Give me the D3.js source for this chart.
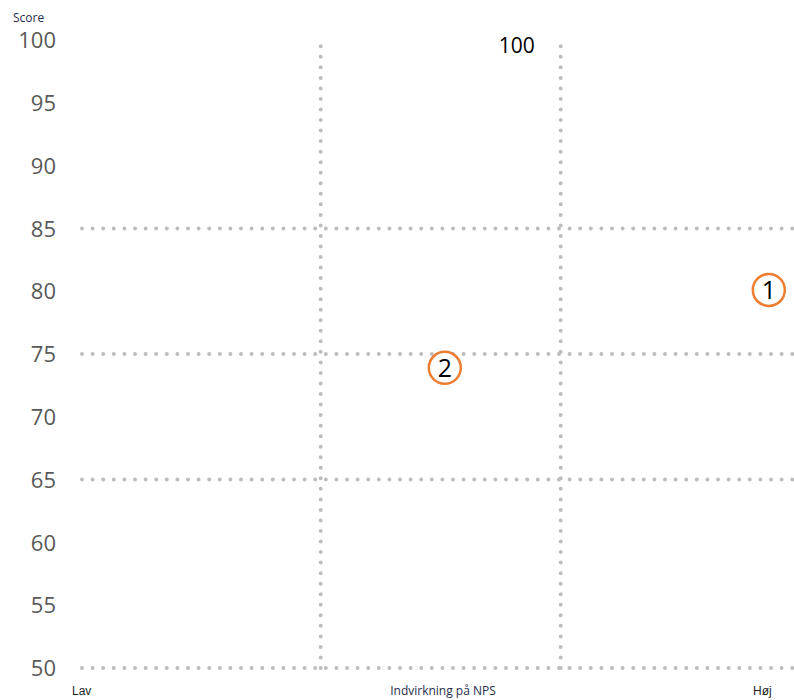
<!DOCTYPE html>
<html>
<head>
<meta charset="utf-8">
<script src="https://cdn.jsdelivr.net/npm/d3@7"></script>
<style>
  html, body { margin: 0; padding: 0; background: #fff; }
  svg { display: block; }
</style>
</head>
<body>
<svg id="chart" width="794" height="700"></svg>
<script>
// ---- data ----
const yTicks = [50, 55, 60, 65, 70, 75, 80, 85, 90, 95, 100];
const hGridValues = [50, 65, 75, 85];
const vGridValues = [1, 2];
const pointLabels = ["1", "2"];
const pointX = [2.87, 1.52];
const pointY = [80.1, 73.9];
const xEndLabels = ["Lav", "Høj"];
const xTitle = "Indvirkning på NPS";
const yTitle = "Score";
const annotationText = ["100"];
const annotationX = [1.82];
const annotationY = [99.6];

// ---- scales ----
const svg = d3.select("#chart");
const x = d3.scaleLinear().domain([0, 3]).range([80, 800]);
const y = d3.scaleLinear().domain([50, 100]).range([668, 40]);

const gridColor = "#bdbdbd";
function dashStep(len, step) {
  const n = Math.max(1, Math.round(len / step));
  return len / n;
}

// horizontal dotted grid
svg.append("g").selectAll("line").data(hGridValues).join("line")
  .attr("x1", x(0) + 2).attr("x2", 800)
  .attr("y1", d => y(d)).attr("y2", d => y(d))
  .attr("stroke", gridColor).attr("stroke-width", 4)
  .attr("stroke-linecap", "round").attr("stroke-dasharray", "0 10.6");

// vertical dotted grid (drawn bottom-up)
const vLen = y(50) - y(99.5);
const vStep = dashStep(vLen, 10.5);
svg.append("g").selectAll("line").data(vGridValues).join("line")
  .attr("x1", d => x(d) + 0.7).attr("x2", d => x(d) + 0.7)
  .attr("y1", y(50)).attr("y2", y(99.5) - 2)
  .attr("stroke", gridColor).attr("stroke-width", 4)
  .attr("stroke-linecap", "round").attr("stroke-dasharray", "0 " + vStep);

// y axis (labels only)
const yAxis = d3.axisLeft(y).tickValues(yTicks).tickSize(0).tickPadding(0);
const gy = svg.append("g").attr("transform", "translate(56,0)").call(yAxis);
gy.select(".domain").remove();
gy.selectAll("text")
  .attr("font-family", "'Open Sans', sans-serif")
  .attr("font-size", 22)
  .attr("fill", "#595959")
  .attr("dy", "0.35em");

// y title
svg.append("text").attr("x", 13).attr("y", 22)
  .attr("font-family", "'Open Sans', sans-serif").attr("font-size", 12)
  .attr("fill", "#1f2d4d").text(yTitle);

// x labels
svg.append("text").attr("x", 72).attr("y", 695)
  .attr("font-family", "'Liberation Sans', Arial, sans-serif").attr("font-size", 12)
  .attr("fill", "#1f1f1f").text(xEndLabels[0]);
svg.append("text").attr("x", 753).attr("y", 695)
  .attr("font-family", "'Liberation Sans', Arial, sans-serif").attr("font-size", 12)
  .attr("fill", "#1f1f1f").text(xEndLabels[1]);
svg.append("text").attr("x", 443).attr("y", 695).attr("text-anchor", "middle")
  .attr("font-family", "'Open Sans', sans-serif").attr("font-size", 12)
  .attr("fill", "#1f2d4d").text(xTitle);

// annotation
svg.append("g").selectAll("text").data(annotationText).join("text")
  .attr("x", (d, i) => x(annotationX[i])).attr("y", (d, i) => y(annotationY[i]) + 8)
  .attr("text-anchor", "middle")
  .attr("font-family", "'Open Sans', sans-serif").attr("font-size", 21)
  .attr("fill", "#000").text(d => d);

// points
const pts = pointLabels.map((l, i) => ({ label: l, x: pointX[i], y: pointY[i] }));
const gp = svg.append("g").selectAll("g").data(pts).join("g")
  .attr("transform", d => `translate(${x(d.x)},${y(d.y)})`);
gp.append("circle").attr("r", 16)
  .attr("fill", "#fff").attr("stroke", "#ed7d31").attr("stroke-width", 2.5);
gp.append("text").attr("text-anchor", "middle").attr("dy", "0.36em")
  .attr("font-family", "'Open Sans', sans-serif").attr("font-size", 25)
  .attr("fill", "#000").text(d => d.label);
</script>
</body>
</html>
